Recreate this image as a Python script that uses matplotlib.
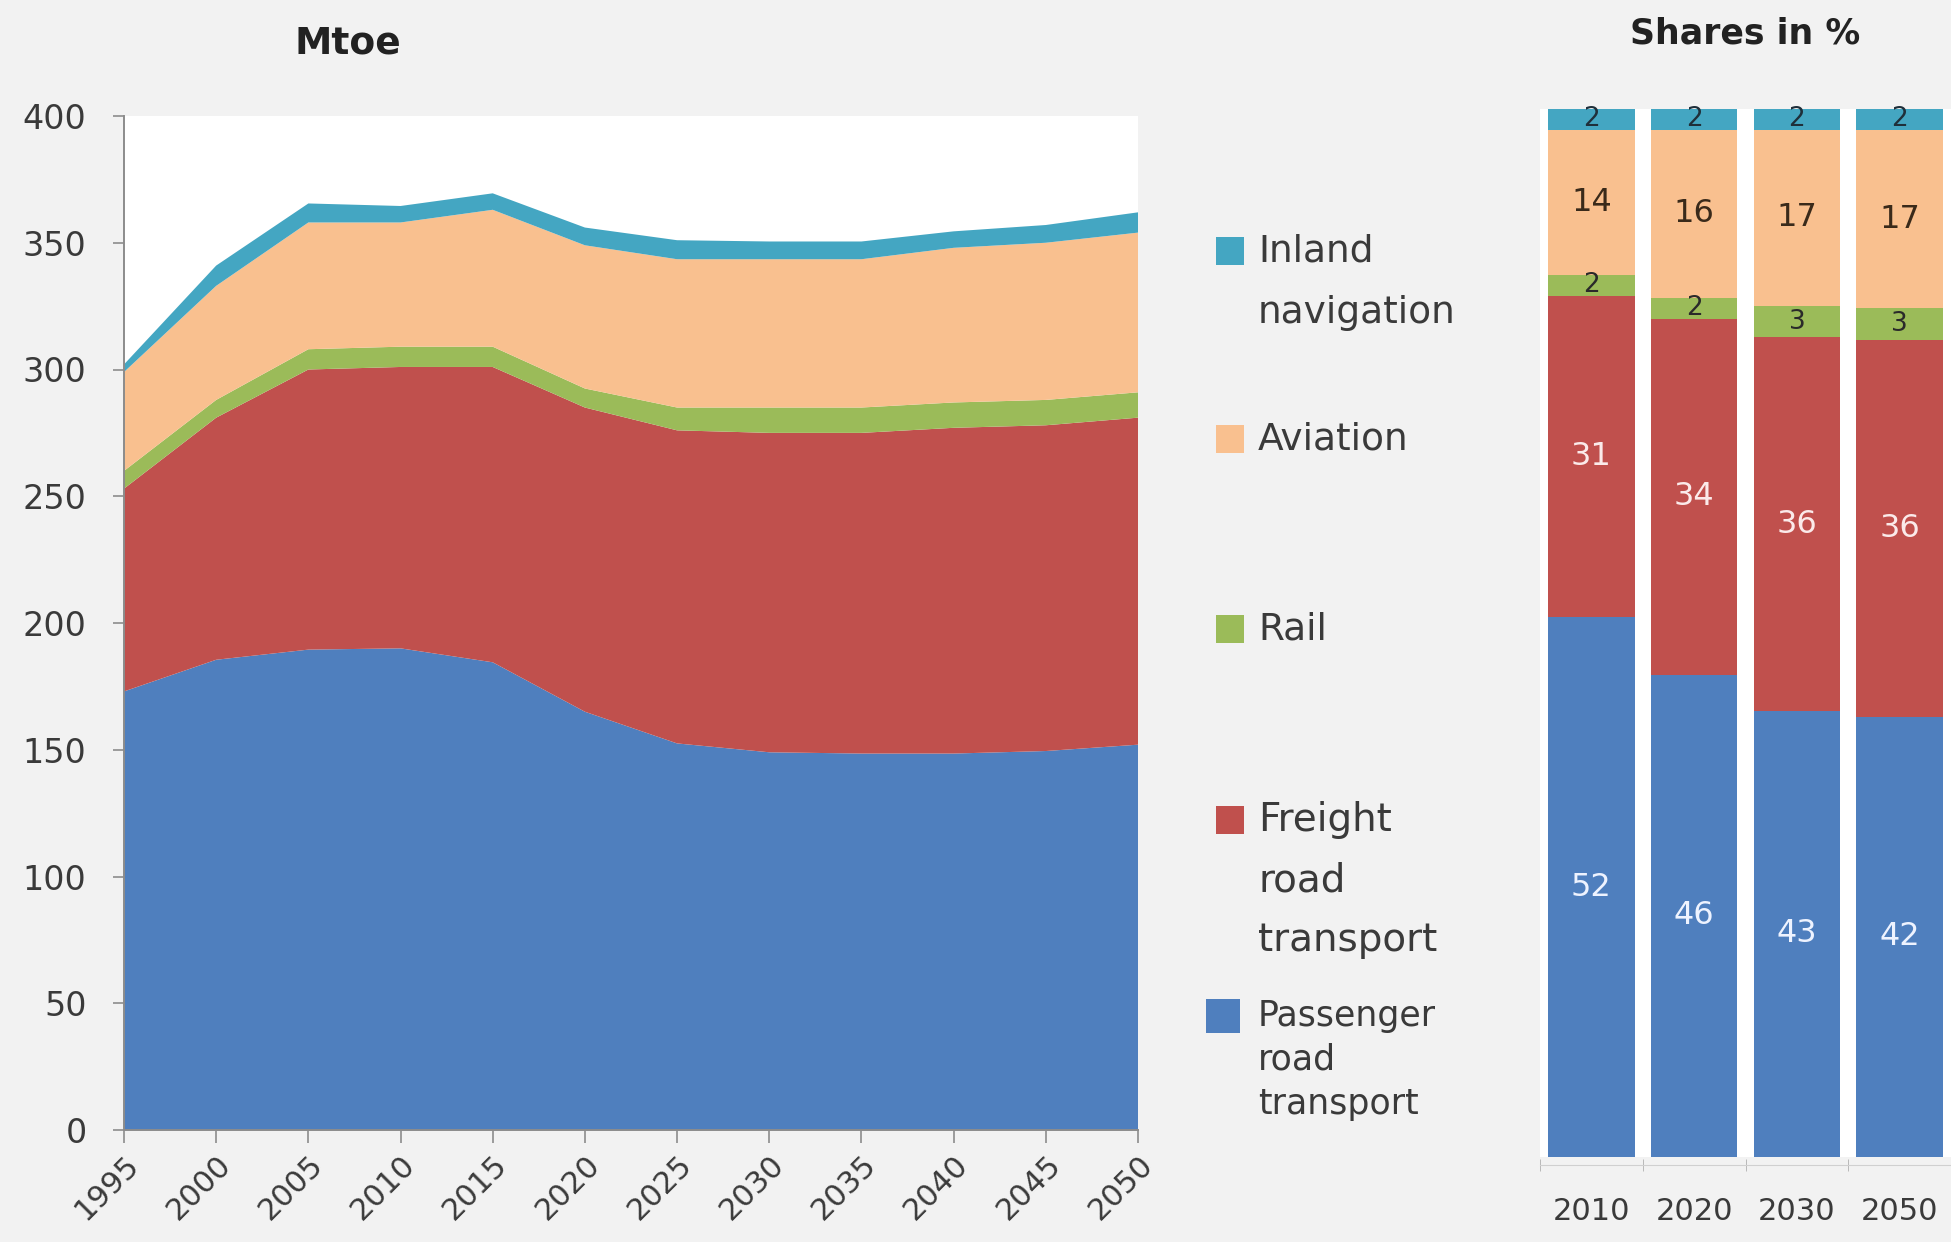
import numpy as np
import matplotlib
matplotlib.use("Agg")
import matplotlib.pyplot as plt
from matplotlib.patches import Rectangle

plt.rcParams['font.family'] = ['DejaVu Sans']

## data (Mtoe)
years = [1995, 2000, 2005, 2010, 2015, 2020, 2025, 2030, 2035, 2040, 2045, 2050]
passenger = [173, 185.5, 189.5, 190, 184.5, 165, 152.5, 149, 148.5, 148.5, 149.5, 152]
freight = [80, 95.5, 110.5, 111, 116.5, 120, 123.5, 126, 126.5, 128.5, 128.5, 129]
rail = [7, 7, 8, 8, 8, 7.5, 9, 10, 10, 10, 10, 10]
aviation = [39, 45, 50, 49, 54, 56.5, 58.5, 58.5, 58.5, 61, 62, 63]
inland = [3, 8, 7.5, 6.5, 6.5, 7, 7.5, 7, 7, 6.5, 7, 8]

## shares in %
share_years = ['2010', '2020', '2030', '2050']
share_passenger = [52, 46, 43, 42]
share_freight = [31, 34, 36, 36]
share_rail = [2, 2, 3, 3]
share_aviation = [14, 16, 17, 17]
share_inland = [2, 2, 2, 2]

colors = ['#4f7fbe', '#c0504d', '#9bbb59', '#f9c08f', '#44a6c2']

W, H = 1951, 1242
fig = plt.figure(figsize=(W / 100, H / 100), dpi=100)
fig.patch.set_facecolor('#f2f2f2')

## left: stacked area
ax = fig.add_axes([124 / W, 1 - 1130 / H, (1138 - 124) / W, (1130 - 116) / H])
ax.set_facecolor('white')
ax.stackplot(years, passenger, freight, rail, aviation, inland, colors=colors, linewidth=0)
ax.set_xlim(1995, 2050)
ax.set_ylim(0, 400)
ax.set_yticks(range(0, 401, 50))
ax.set_xticks(years)
ax.set_xticklabels([str(y) for y in years], rotation=45, ha='right', va='top',
                   rotation_mode='anchor')
for s in ['top', 'right']:
    ax.spines[s].set_visible(False)
for s in ['left', 'bottom']:
    ax.spines[s].set_color('#8c8c8c')
    ax.spines[s].set_linewidth(1.4)
ax.tick_params(axis='y', length=8, width=1.2, color='#8c8c8c', labelsize=24,
               labelcolor='#3a3a3a', pad=19)
ax.tick_params(axis='x', length=9, width=1.2, color='#8c8c8c', labelsize=22,
               labelcolor='#3a3a3a', pad=5)
fig.text(348 / W, 1 - 44 / H, 'Mtoe', fontsize=27, fontweight='bold', color='#222222',
         ha='center', va='center')

## legend drawn by hand: colour, lines, first line y, line step, font size, square size
legend_items = [
    (colors[4], ['Inland', 'navigation'], 251, 62, 27, 28),
    (colors[3], ['Aviation'], 439, 62, 27, 28),
    (colors[2], ['Rail'], 629, 62, 27, 28),
    (colors[1], ['Freight', 'road', 'transport'], 820, 60, 28, 28),
    (colors[0], ['Passenger', 'road', 'transport'], 1016, 44, 25, 34),
]
for col, lines, y0, step, fs, sq in legend_items:
    cx = 1230 if sq < 30 else 1223
    fig.patches.append(Rectangle(((cx - sq / 2) / W, 1 - (y0 + sq / 2) / H), sq / W, sq / H,
                                 transform=fig.transFigure, facecolor=col, edgecolor='none'))
    for i, t in enumerate(lines):
        fig.text(1258 / W, 1 - (y0 + i * step) / H, t, fontsize=fs, color='#3a3a3a',
                 ha='left', va='center')

## right: 100% stacked bars
ax2 = fig.add_axes([1540 / W, 1 - 1157 / H, (W - 1540) / W, (1157 - 109) / H])
ax2.set_facecolor('white')
x = np.arange(len(share_years))
series = [share_passenger, share_freight, share_rail, share_aviation, share_inland]
totals = np.sum(series, axis=0)
bottom = np.zeros(len(x))
label_colors = ['#eef3ff', '#fbeaea', '#2a2a2a', '#3a2a1a', '#1f2f3a']
for k, vals in enumerate(series):
    h = np.array(vals) / totals * 100
    ax2.bar(x, h, bottom=bottom, width=0.84, color=colors[k], linewidth=0)
    for xi, bi, hi, v in zip(x, bottom, h, vals):
        ax2.text(xi, bi + hi / 2, str(v), ha='center', va='center',
                 fontsize=23 if k in (0, 1, 3) else 19, color=label_colors[k])
    bottom += h
ax2.set_xlim(-0.5, 3.5)
ax2.set_ylim(0, 100)
ax2.set_yticks([])
ax2.set_xticks(x)
ax2.set_xticklabels(share_years)
ax2.set_xticks(np.arange(-0.5, 4, 1), minor=True)
ax2.tick_params(axis='x', which='major', length=0, labelsize=22, labelcolor='#3a3a3a', pad=23)
ax2.tick_params(axis='x', which='minor', length=9, color='#b0b0b0', direction='inout')
for s in ['top', 'right', 'left']:
    ax2.spines[s].set_visible(False)
ax2.spines['bottom'].set_color('#d0d0d0')
ax2.spines['bottom'].set_position(('outward', 6))
fig.text(1745 / W, 1 - 34 / H, 'Shares in %', fontsize=25, fontweight='bold', color='#222222',
         ha='center', va='center')

fig.savefig('out.png', dpi=100, facecolor=fig.get_facecolor())
